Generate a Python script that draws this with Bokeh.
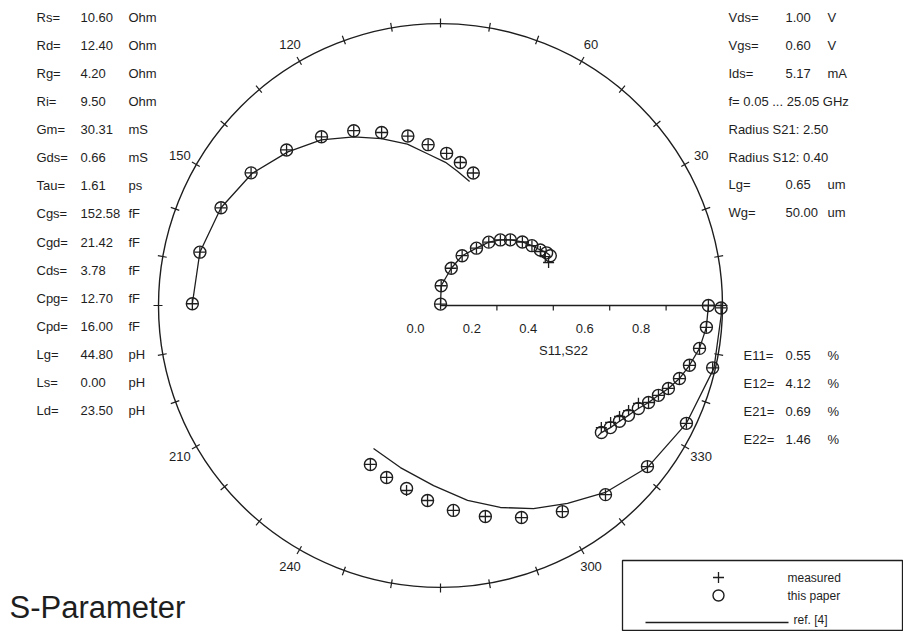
import numpy as np
from bokeh.plotting import figure
from bokeh.models import Label, Range1d
from bokeh.embed import file_html
from bokeh.resources import INLINE

# ---------------- data (magnitude, angle in degrees) ----------------
# S11 (scale radius 1.0)
s11_model_mag = [0.995, 0.990, 0.967, 0.930, 0.890, 0.849, 0.805, 0.765, 0.728, 0.693, 0.660, 0.639, 0.616]
s11_model_ang = [-0.5, -12.9, -25.6, -37.9, -48.9, -59.4, -69.1, -78.0, -86.4, -93.8, -100.5, -107.4, -113.8]
s11_meas_mag = [0.995, 0.990, 0.967, 0.930, 0.890, 0.849, 0.805, 0.765, 0.728, 0.693, 0.667, 0.639, 0.616]
s11_meas_ang = [-0.5, -12.9, -25.6, -37.9, -48.9, -59.4, -69.1, -78.0, -86.4, -93.8, -100.4, -107.4, -113.8]
s11_ref_mag = [1.0, 0.995, 0.967, 0.932, 0.884, 0.834, 0.792, 0.747, 0.698, 0.639, 0.592, 0.560]
s11_ref_ang = [0.0, -12.9, -25.6, -38.0, -48.6, -57.3, -65.4, -73.5, -82.1, -92.2, -103.9, -115.1]

# S22 (scale radius 1.0)
s22_model_mag = [0.950, 0.946, 0.931, 0.908, 0.886, 0.860, 0.836, 0.814, 0.791, 0.772, 0.756, 0.742, 0.727]
s22_model_ang = [0.0, -4.7, -9.4, -13.5, -17.0, -20.0, -22.4, -25.0, -27.5, -30.3, -32.9, -35.7, -38.3]
s22_meas_mag = [0.950, 0.946, 0.931, 0.908, 0.886, 0.860, 0.836, 0.814, 0.783, 0.764, 0.747, 0.732, 0.716]
s22_meas_ang = [0.0, -4.7, -9.4, -13.5, -17.0, -20.0, -22.4, -25.0, -26.3, -29.2, -31.8, -34.5, -37.2]
s22_ref_mag = [0.950, 0.946, 0.931, 0.908, 0.886, 0.860, 0.836, 0.814, 0.791, 0.772, 0.756, 0.742, 0.727, 0.725]
s22_ref_ang = [0.0, -4.7, -9.4, -13.5, -17.0, -20.0, -22.4, -25.0, -27.5, -30.3, -32.9, -35.7, -38.3, -39.8]

# S21 (scale radius 2.5)
s21_model_mag = [2.20, 2.185, 2.13, 2.05, 1.94, 1.83, 1.73, 1.62, 1.53, 1.43, 1.35, 1.28, 1.21]
s21_model_ang = [179.6, 167.5, 156.0, 145.0, 134.7, 125.2, 116.4, 108.8, 100.9, 94.4, 87.7, 82.1, 76.1]
s21_meas_mag = [2.20, 2.185, 2.13, 2.05, 1.94, 1.83, 1.73, 1.62, 1.53, 1.43, 1.35, 1.28, 1.21]
s21_meas_ang = [179.6, 167.5, 156.0, 145.0, 134.7, 125.2, 116.4, 108.8, 100.9, 94.4, 87.7, 82.1, 76.1]
s21_ref_mag = [2.20, 2.185, 2.13, 2.04, 1.92, 1.81, 1.68, 1.57, 1.46, 1.35, 1.27, 1.20, 1.13]
s21_ref_ang = [179.6, 167.5, 156.0, 145.0, 134.8, 125.75, 117.2, 109.5, 101.6, 94.9, 88.0, 82.8, 76.8]

# S12 (scale radius 0.4)
s12_model_mag = [0.002, 0.028, 0.055, 0.077, 0.096, 0.113, 0.126, 0.136, 0.147, 0.155, 0.162, 0.168, 0.171]
s12_model_ang = [88.0, 88.0, 73.9, 66.5, 57.9, 52.7, 47.6, 43.2, 37.8, 33.2, 29.1, 26.4, 24.4]
s12_meas_mag = [0.002, 0.028, 0.055, 0.077, 0.096, 0.113, 0.126, 0.136, 0.147, 0.155, 0.161, 0.164, 0.165]
s12_meas_ang = [88.0, 88.0, 73.9, 66.5, 57.9, 52.7, 47.6, 43.2, 37.8, 33.2, 28.4, 25.0, 21.7]
s12_ref_mag = s12_model_mag
s12_ref_ang = s12_model_ang

scale_s11 = 1.0
scale_s22 = 1.0
scale_s21 = 2.5
scale_s12 = 0.4

angle_labels = [30, 60, 120, 150, 210, 240, 300, 330]
radial_ticks = [0.0, 0.2, 0.4, 0.6, 0.8]

left_names = ["Rs=", "Rd=", "Rg=", "Ri=", "Gm=", "Gds=", "Tau=", "Cgs=", "Cgd=", "Cds=", "Cpg=", "Cpd=", "Lg=", "Ls=", "Ld="]
left_values = ["10.60", "12.40", "4.20", "9.50", "30.31", "0.66", "1.61", "152.58", "21.42", "3.78", "12.70", "16.00", "44.80", "0.00", "23.50"]
left_units = ["Ohm", "Ohm", "Ohm", "Ohm", "mS", "mS", "ps", "fF", "fF", "fF", "fF", "fF", "pH", "pH", "pH"]

right_names = ["Vds=", "Vgs=", "Ids=", None, None, None, "Lg=", "Wg="]
right_values = ["1.00", "0.60", "5.17", None, None, None, "0.65", "50.00"]
right_units = ["V", "V", "mA", None, None, None, "um", "um"]
right_lines = [None, None, None, "f= 0.05 ... 25.05 GHz", "Radius S21: 2.50", "Radius S12: 0.40", None, None]

err_names = ["E11=", "E12=", "E21=", "E22="]
err_values = ["0.55", "4.12", "0.69", "1.46"]
err_units = ["%", "%", "%", "%"]

# ---------------- layout helpers ----------------
W, H = 903, 631
CX, CY, R = 440.0, 305.0, 282.0  # pixel centre and radius
INK = "#1e1e1e"
FONT = "Liberation Sans"


def X(px):
    return (px - CX) / R


def Y(py):
    return (CY - py) / R


def pol(mag, ang, scale):
    m = np.asarray(mag) / scale
    a = np.radians(np.asarray(ang))
    return m * np.cos(a), m * np.sin(a)


p = figure(width=W, height=H, output_backend="svg", toolbar_location=None,
           x_axis_type=None, y_axis_type=None,
           x_range=Range1d(X(0), X(W)), y_range=Range1d(Y(H), Y(0)),
           min_border=0)
p.grid.visible = False
p.outline_line_color = None
p.background_fill_color = "white"

# outer circle
p.arc(x=0, y=0, radius=1.0, start_angle=0, end_angle=2 * np.pi, line_color=INK, line_width=1.4)

# angular ticks every 10 deg
ta = np.radians(np.arange(0, 360, 10))
r0, r1 = 1 - 4 / R, 1 + 5 / R
p.segment(x0=r0 * np.cos(ta), y0=r0 * np.sin(ta), x1=r1 * np.cos(ta), y1=r1 * np.sin(ta),
          line_color=INK, line_width=1.2)

# angle labels
for a in angle_labels:
    rr = 1 + 19 / R
    p.add_layout(Label(x=rr * np.cos(np.radians(a)), y=rr * np.sin(np.radians(a)), text=str(a),
                       text_align="center", text_baseline="middle", text_font=FONT,
                       text_font_size="13px", text_color=INK))

# radial axis
p.segment(x0=[0], y0=[0], x1=[1], y1=[0], line_color=INK, line_width=1.3)
rt = np.array(radial_ticks[1:])
p.segment(x0=rt, y0=np.zeros_like(rt), x1=rt, y1=np.full_like(rt, -5 / R), line_color=INK, line_width=1.2)
for t in radial_ticks:
    p.add_layout(Label(x=t - 25 / R, y=Y(328), text=f"{t:.1f}", text_align="center",
                       text_baseline="middle", text_font=FONT, text_font_size="13px", text_color=INK))
p.add_layout(Label(x=X(563), y=Y(350), text="S11,S22", text_align="center", text_baseline="middle",
                   text_font=FONT, text_font_size="13px", text_color=INK))

# curves
series = [
    (s11_ref_mag, s11_ref_ang, s11_model_mag, s11_model_ang, s11_meas_mag, s11_meas_ang, scale_s11),
    (s22_ref_mag, s22_ref_ang, s22_model_mag, s22_model_ang, s22_meas_mag, s22_meas_ang, scale_s22),
    (s21_ref_mag, s21_ref_ang, s21_model_mag, s21_model_ang, s21_meas_mag, s21_meas_ang, scale_s21),
    (s12_ref_mag, s12_ref_ang, s12_model_mag, s12_model_ang, s12_meas_mag, s12_meas_ang, scale_s12),
]
for rm, ra, mm, ma, em, ea, sc in series:
    x, y = pol(rm, ra, sc)
    p.line(x, y, line_color=INK, line_width=1.3)
    x, y = pol(mm, ma, sc)
    p.scatter(x, y, marker="circle", size=12, fill_color=None, line_color=INK, line_width=1.4)
    x, y = pol(em, ea, sc)
    p.scatter(x, y, marker="cross", size=11, line_color=INK, line_width=1.3)


def txt(px, py, s, size="13px", align="left"):
    p.add_layout(Label(x=X(px), y=Y(py), text=s, text_align=align, text_baseline="middle",
                       text_font=FONT, text_font_size=size, text_color=INK))


# left parameter block
for i, (n, v, u) in enumerate(zip(left_names, left_values, left_units)):
    yy = 17 + i * 28.07
    txt(36, yy, n)
    txt(80, yy, v)
    txt(128, yy, u)

# right parameter block
for i in range(len(right_names)):
    yy = 17 + i * 27.9
    if right_lines[i] is not None:
        txt(728, yy, right_lines[i])
    else:
        txt(728, yy, right_names[i])
        txt(785, yy, right_values[i])
        txt(827, yy, right_units[i])

# error block
for i, (n, v, u) in enumerate(zip(err_names, err_values, err_units)):
    yy = 355 + i * 28
    txt(743, yy, n)
    txt(785, yy, v)
    txt(827, yy, u)

# legend box
p.quad(left=[X(622)], right=[X(902)], top=[Y(560)], bottom=[Y(630)], fill_color=None,
       line_color=INK, line_width=1.3)
p.scatter([X(718)], [Y(577)], marker="cross", size=11, line_color=INK, line_width=1.3)
p.scatter([X(718)], [Y(595)], marker="circle", size=11, fill_color=None, line_color=INK, line_width=1.4)
p.line([X(645), X(788)], [Y(622), Y(622)], line_color=INK, line_width=1.3)
txt(787, 577, "measured", size="12px")
txt(787, 595, "this paper", size="12px")
txt(793, 619, "ref. [4]", size="12px")

# title
txt(9, 607, "S-Parameter", size="31px")

open("out.html", "w").write(file_html(p, INLINE))
